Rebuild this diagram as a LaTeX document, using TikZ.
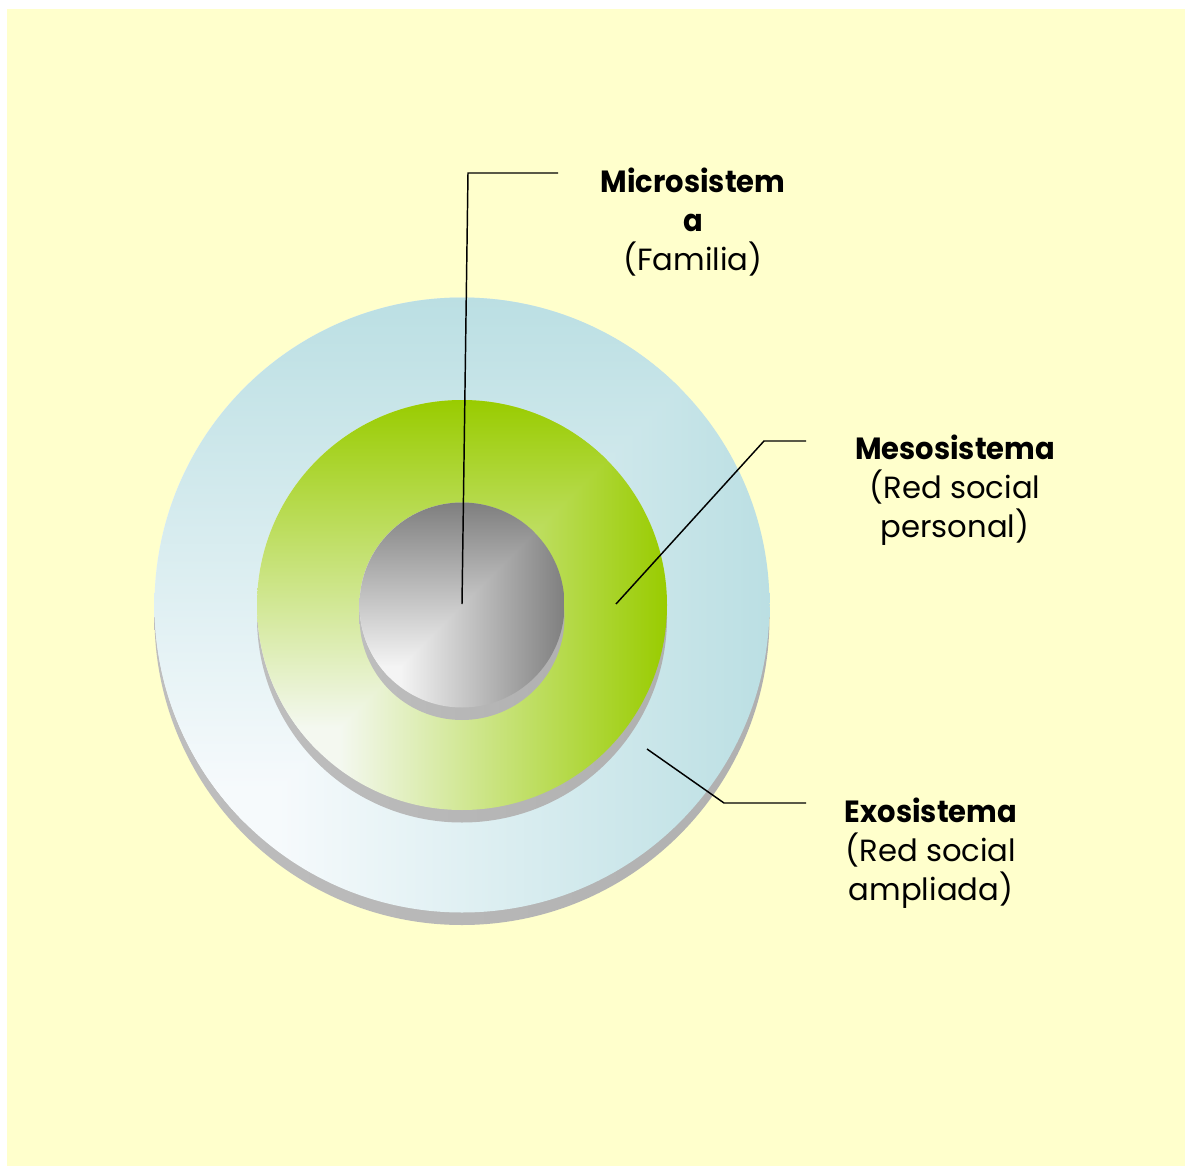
\documentclass[tikz,border=0pt]{standalone}
\usepackage{fontspec}
\setmainfont{Poppins}
\definecolor{bgyellow}{HTML}{FFFFCC}
\definecolor{blueDark}{HTML}{BBDFE3}
\definecolor{blueLight}{HTML}{F6FAFC}
\definecolor{greenDark}{HTML}{99CC00}
\definecolor{greenLight}{HTML}{F4F8F0}
\definecolor{greyDark}{HTML}{7F7F7F}
\definecolor{greyLight}{HTML}{F4F4F4}
\definecolor{lipA}{HTML}{BEBEBE}
\definecolor{lipM}{HTML}{A2A2A2}
\definecolor{lipB}{HTML}{B0B0B0}
\colorlet{shDark}{greyDark}
\colorlet{shLight}{greyLight}
\pgfdeclareverticalshading[shDark,shLight]{facev}{100bp}{color(0bp)=(shLight); color(25bp)=(shLight); color(35bp)=(shLight); color(75bp)=(shDark); color(100bp)=(shDark)}
\pgfdeclarehorizontalshading[shDark,shLight]{faceh}{100bp}{color(0bp)=(shLight); color(25bp)=(shLight); color(35bp)=(shLight); color(75bp)=(shDark); color(100bp)=(shDark)}
\newcommand\mydisk[5]{%
  \pgfmathsetmacro\dxl{#1-#3}\pgfmathsetmacro\dxr{#1+#3}%
  \pgfmathsetmacro\dyt{#2+#3}\pgfmathsetmacro\dyb{#2-#3}%
  \colorlet{shDark}{#4}\colorlet{shLight}{#5}%
  \shade[left color=lipA, middle color=lipM, right color=lipB] (#1,{#2-12.5}) circle (#3);
  \begin{scope}
    \clip (#1,#2) circle (#3);
    \shade[shading=faceh] (\dxl,\dyb) rectangle (\dxr,\dyt);
    \begin{scope}
      \clip (\dxl,\dyb) -- (\dxr,\dyt) -- (\dxl,\dyt) -- cycle;
      \shade[shading=facev] (\dxl,\dyb) rectangle (\dxr,\dyt);
    \end{scope}
  \end{scope}}
\newcommand\bt[1]{\scalebox{0.945}[1]{\textbf{#1}}}
\tikzset{
  leader/.style={draw=black, line width=1.1pt, line join=miter},
  label/.style={align=center, inner sep=0pt, anchor=north, font=\fontsize{23}{29.25}\selectfont},
}
\begin{document}
\begin{tikzpicture}[x=0.75pt,y=0.75pt]
\useasboundingbox (0,0) rectangle (1189,-1170);
\fill[bgyellow] (7,-9) rectangle (1185,-1166);
\mydisk{462}{-605}{307.5}{blueDark}{blueLight}
\mydisk{462}{-605}{205}{greenDark}{greenLight}
\mydisk{462}{-605}{102.5}{greyDark}{greyLight}
% labels
\node[label] (micro) at (693,-168) {\bt{Microsistem}\\\bt{a}\\(Familia)};
\node[label] (meso) at (955,-435) {\bt{Mesosistema}\\(Red social\\personal)};
\node[label] (exo) at (931,-798) {\bt{Exosistema}\\(Red social\\ampliada)};
% leader coordinates
\coordinate (microA) at (462,-604);
\coordinate (microB) at (468,-173);
\coordinate (microC) at (558,-173);
\coordinate (mesoA) at (616,-604);
\coordinate (mesoB) at (764,-441);
\coordinate (mesoC) at (806,-441);
\coordinate (exoA) at (647,-749);
\coordinate (exoB) at (724,-803);
\coordinate (exoC) at (806,-803);
\draw[leader] (microA) -- (microB) -- (microC);
\draw[leader] (mesoA) -- (mesoB) -- (mesoC);
\draw[leader] (exoA) -- (exoB) -- (exoC);
\end{tikzpicture}
\end{document}
